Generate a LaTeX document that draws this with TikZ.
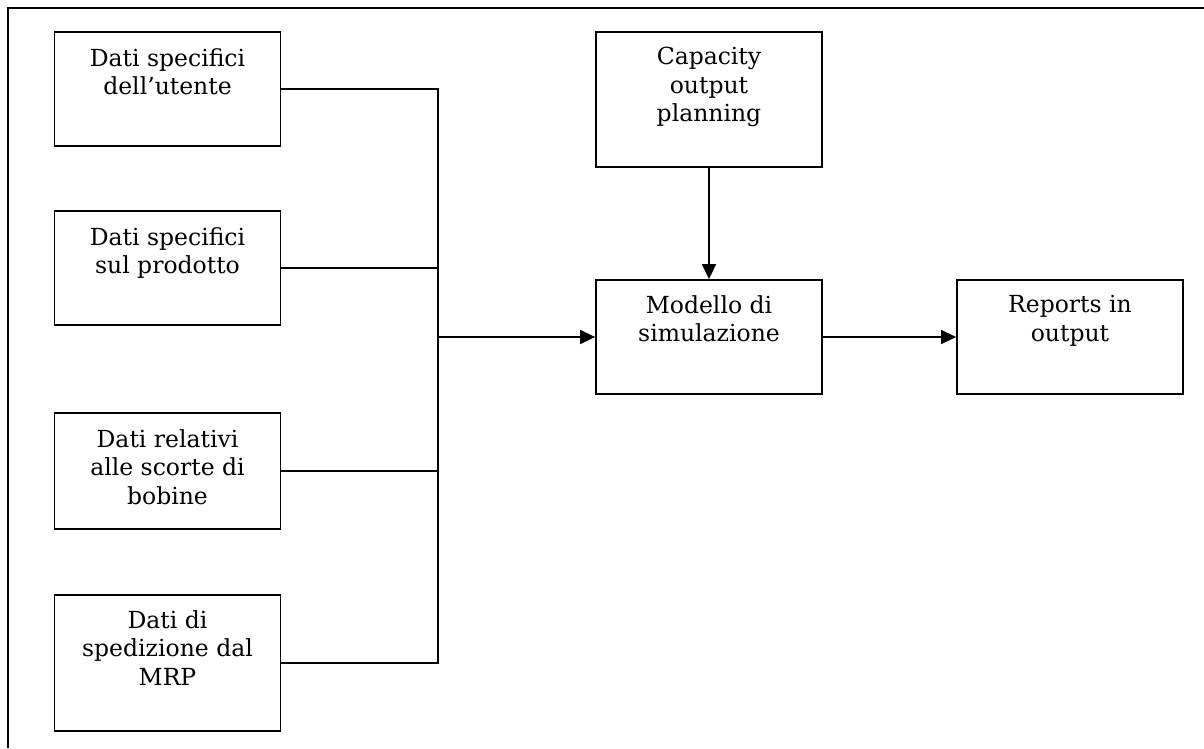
\documentclass[tikz,border=0pt]{standalone}
\usepackage{fontspec}
\setmainfont{DejaVu Serif}
\usetikzlibrary{arrows.meta}
\begin{document}
\begin{tikzpicture}[x=1pt,y=-1pt,
  boxnode/.style={draw, line width=1.8pt, rectangle, inner sep=0pt,
    minimum width=226pt},
  txt/.style={anchor=north, align=center, inner sep=0pt,
    font=\fontsize{23.5}{28.5}\selectfont},
  wire/.style={line width=1.6pt},
  arr/.style={wire, -{Triangle[length=15pt,width=14pt]}}]

\useasboundingbox (0,0) rectangle (1204,748);

% outer frame (top and left sides)
\draw[line width=2.2pt] (8,748) -- (8,8) -- (1204,8);

% input boxes
\node[boxnode, minimum height=114pt] (b1) at (167.5,89) {};
\node[boxnode, minimum height=114pt] (b2) at (167.5,268) {};
\node[boxnode, minimum height=116pt] (b3) at (167.5,471) {};
\node[boxnode, minimum height=136pt] (b4) at (167.5,663) {};

% process boxes
\node[boxnode, minimum height=135pt] (cap) at (709,99.5) {};
\node[boxnode, minimum height=114pt] (mod) at (709,337) {};
\node[boxnode, minimum height=114pt] (rep) at (1070,337) {};

% box texts
\node[txt] (b1t) at ([yshift=-17pt]b1.north) {Dati specifici\\dell’utente};
\node[txt] (b2t) at ([yshift=-17pt]b2.north) {Dati specifici\\sul prodotto};
\node[txt] (b3t) at ([yshift=-17pt]b3.north) {Dati relativi\\alle scorte di\\bobine};
\node[txt] (b4t) at ([yshift=-16pt]b4.north) {Dati di\\spedizione dal\\MRP};
\node[txt] (capt) at ([yshift=-16pt]cap.north) {Capacity\\output\\planning};
\node[txt] (modt) at ([yshift=-16pt]mod.north) {Modello di\\simulazione};
\node[txt] (rept) at ([yshift=-16pt]rep.north) {Reports in\\output};

% collecting bus
\coordinate (bustop) at (438,89);
\coordinate (busbot) at (438,663);
\coordinate (busout) at (438,337);

\draw[wire] (b1.east) -- (b1.east -| bustop);
\draw[wire] (b2.east) -- (b2.east -| bustop);
\draw[wire] (b3.east) -- (b3.east -| bustop);
\draw[wire] (b4.east) -- (b4.east -| bustop);
\draw[wire, line cap=rect] (bustop) -- (busbot);

% arrows
\draw[arr] (busout) -- (mod.west);
\draw[arr] (cap.south) -- (mod.north);
\draw[arr] (mod.east) -- (rep.west);
\end{tikzpicture}
\end{document}
